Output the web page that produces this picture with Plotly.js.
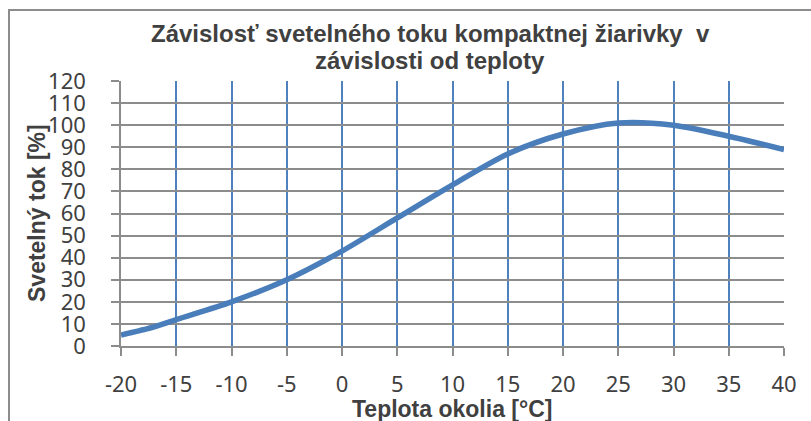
<!DOCTYPE html>
<html>
<head>
<meta charset="utf-8">
<script src="https://cdn.plot.ly/plotly-3.0.1.min.js"></script>
<style>
  html, body { margin: 0; padding: 0; background: #fff; overflow: hidden; }
  #frame { position: absolute; left: 8px; top: 9px; width: 820px; height: 430px; border: 2px solid #8c8c8c; box-sizing: border-box; }
  #chart { position: absolute; left: 0; top: 0; width: 811px; height: 421px; }
</style>
</head>
<body>
<div id="frame"></div>
<div id="chart"></div>
<script>
// temperature [°C] vs luminous flux [%]
const teplota = [-20, -17, -15, -10, -5, 0, 5, 10, 15, 20, 25, 30, 35, 40]
const tok = [5, 8.7, 12, 20, 30, 43, 58, 73, 87, 96, 101, 100, 95, 89]

const xTicks = [-20, -15, -10, -5, 0, 5, 10, 15, 20, 25, 30, 35, 40]
const yTicks = [0, 10, 20, 30, 40, 50, 60, 70, 80, 90, 100, 110, 120]

const titleLines = ['Závislosť svetelného toku kompaktnej žiarivky  v', 'závislosti od teploty']
const xTitle = 'Teplota okolia [°C]'
const yTitle = 'Svetelný tok [%]'

const textColor = '#404040'
const greyLine = '#8c8c8c'
const blueLine = '#4f81bd'
const boldFont = { family: 'Liberation Sans, Arial, sans-serif', size: 23, color: textColor, weight: 'bold' }
const tickFont = { family: 'Noto Sans, Open Sans, sans-serif', size: 22, color: textColor }

// plot area in px: x 121..784, y 81..346
const px = (x) => (x - 121) / 663
const py = (y) => (346 - y) / 265

const data = [{
  x: teplota,
  y: tok,
  mode: 'lines',
  type: 'scatter',
  line: { color: '#4a7ebb', width: 5.5, shape: 'spline', smoothing: 0.8 },
  hoverinfo: 'x+y',
}]

const annotations = [
  { text: '<b>' + titleLines[0] + '</b>', x: px(430), y: py(33), font: { ...boldFont, size: 24 } },
  { text: '<b>' + titleLines[1] + '</b>', x: px(430), y: py(60), font: { ...boldFont, size: 24 } },
  { text: '<b>' + xTitle + '</b>', x: px(452), y: py(409) },
  { text: '<b>' + yTitle + '</b>', x: px(37), y: py(213), textangle: -90 },
].map((a) => ({
  xref: 'paper', yref: 'paper', xanchor: 'center', yanchor: 'middle',
  showarrow: false, font: boldFont, ...a,
}))

const axisCommon = {
  showgrid: true,
  gridwidth: 1.5,
  showline: true,
  linecolor: greyLine,
  linewidth: 1.5,
  zeroline: false,
  ticks: 'outside',
  ticklen: 8,
  tickwidth: 1.5,
  tickcolor: greyLine,
  tickfont: tickFont,
  fixedrange: true,
}

const layout = {
  width: 811,
  height: 421,
  margin: { l: 121, r: 27, t: 81, b: 75 },
  paper_bgcolor: 'rgba(0,0,0,0)',
  plot_bgcolor: '#fff',
  showlegend: false,
  annotations,
  xaxis: {
    ...axisCommon,
    range: [-20, 40],
    tickvals: xTicks,
    ticktext: xTicks.map(String),
    gridcolor: blueLine,
    ticklabelstandoff: 10,
  },
  yaxis: {
    ...axisCommon,
    range: [0, 120],
    tickvals: yTicks,
    ticktext: yTicks.map(String),
    gridcolor: greyLine,
    ticklabelstandoff: 21,
  },
}

Plotly.newPlot('chart', data, layout, { displayModeBar: false, responsive: false })
</script>
</body>
</html>
